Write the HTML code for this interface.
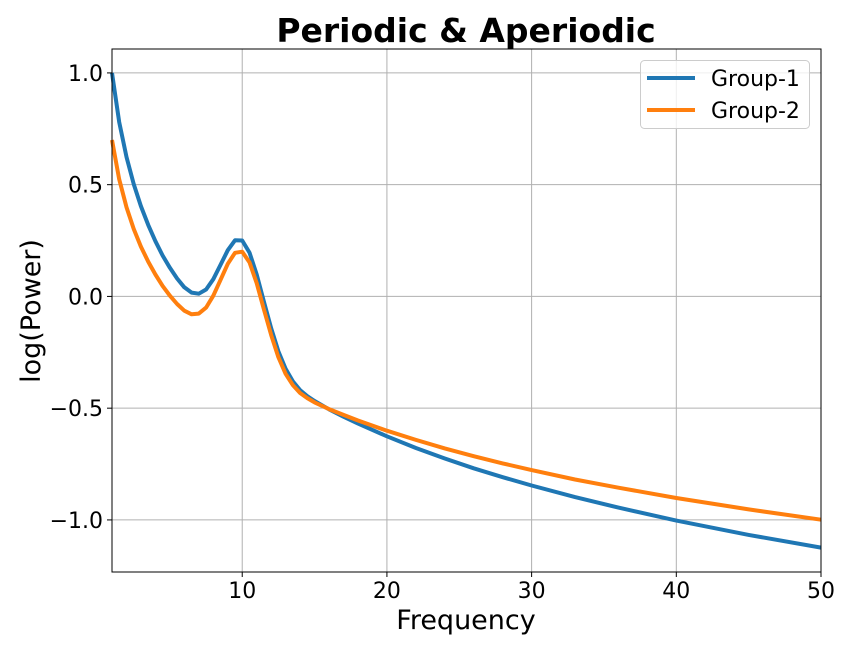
<!DOCTYPE html>
<html><head><meta charset="utf-8"><style>
body{margin:0;background:#fff;}
svg{display:block;font-family:"DejaVu Sans","Liberation Sans",sans-serif;}
</style></head><body>
<svg id="chart" width="850" height="650">
<text x="466" y="42" text-anchor="middle" font-size="33" font-weight="bold">Periodic &amp; Aperiodic</text>
<g id="grid"></g><g id="series"></g><g id="axes"></g>
<text x="466" y="629" text-anchor="middle" font-size="27">Frequency</text>
<text transform="translate(40,311) rotate(-90)" text-anchor="middle" font-size="27">log(Power)</text>
<g>
<rect x="640.5" y="60.5" width="169" height="68" rx="4" fill="#fff" fill-opacity="0.8" stroke="#ccc"/>
<line x1="647" y1="78" x2="695" y2="78" stroke="#1f77b4" stroke-width="4"/>
<text x="711" y="86" font-size="22">Group-1</text>
<line x1="647" y1="110" x2="695" y2="110" stroke="#ff7f0e" stroke-width="4"/>
<text x="711" y="118" font-size="22">Group-2</text>
</g>
</svg>
<script>
const freqs=[1,1.5,2,2.5,3,3.5,4,4.5,5,5.5,6,6.5,7,7.5,8,8.5,9,9.5,10,10.5,11,11.5,12,12.5,13,13.5,14,14.5,15,16,17,18,20,22,24,26,28,30,33,36,40,45,50];
const group1=[1.0,0.780,0.624,0.503,0.404,0.320,0.247,0.183,0.128,0.080,0.041,0.017,0.012,0.031,0.077,0.141,0.207,0.251,0.250,0.196,0.098,-0.023,-0.143,-0.246,-0.324,-0.380,-0.419,-0.446,-0.468,-0.505,-0.538,-0.569,-0.626,-0.678,-0.725,-0.769,-0.809,-0.846,-0.898,-0.945,-1.003,-1.067,-1.124];
const group2=[0.700,0.524,0.399,0.302,0.223,0.156,0.098,0.047,0.003,-0.034,-0.064,-0.080,-0.077,-0.050,0.003,0.074,0.146,0.195,0.200,0.152,0.059,-0.058,-0.173,-0.272,-0.346,-0.397,-0.432,-0.455,-0.474,-0.504,-0.530,-0.555,-0.601,-0.642,-0.680,-0.715,-0.747,-0.777,-0.819,-0.856,-0.902,-0.953,-0.999];
const xTicks=[10,20,30,40,50];
const xTickLabels=["10","20","30","40","50"];
const yTicks=[1.0,0.5,0.0,-0.5,-1.0];
const yTickLabels=["1.0","0.5","0.0","\u22120.5","\u22121.0"];
const L=112,R=821,T=49,B=572,xMin=1,xMax=50,yMin=-1.233,yMax=1.107;
const sx=v=>L+(v-xMin)/(xMax-xMin)*(R-L);
const sy=v=>B-(v-yMin)/(yMax-yMin)*(B-T);
const NS="http://www.w3.org/2000/svg";
function mk(t,a,p){const e=document.createElementNS(NS,t);for(const k in a)e.setAttribute(k,a[k]);p.appendChild(e);return e;}
const grid=document.getElementById('grid'),axes=document.getElementById('axes'),ser=document.getElementById('series');
xTicks.forEach((v,i)=>{const x=sx(v);
const g=mk('line',{x1:x,y1:T,x2:x,y2:B,stroke:'#b0b0b0','stroke-width':1},grid);


mk('line',{x1:x,y1:B,x2:x,y2:B+5,stroke:'#000'},axes);
const t=mk('text',{x:x,y:B+26,'text-anchor':'middle','font-size':22},axes);t.textContent=xTickLabels[i];

});
yTicks.forEach((v,i)=>{const y=sy(v);
const g=mk('line',{x1:L,y1:y,x2:R,y2:y,stroke:'#b0b0b0','stroke-width':1},grid);


mk('line',{x1:L-5,y1:y,x2:L,y2:y,stroke:'#000'},axes);
const t=mk('text',{x:L-9,y:y+8,'text-anchor':'end','font-size':22},axes);t.textContent=yTickLabels[i];

});
const fr=mk('rect',{x:L,y:T,width:R-L,height:B-T,fill:'none',stroke:'#000','stroke-width':1},axes);


function line(vals,color,name){const d=freqs.map((f,i)=>(i?'L':'M')+sx(f).toFixed(1)+','+sy(vals[i]).toFixed(1)).join('');
const p=mk('path',{d:d,fill:'none',stroke:color,'stroke-width':4,'stroke-linejoin':'round'},ser);

}
line(group1,'#1f77b4','group-1-line');
line(group2,'#ff7f0e','group-2-line');
</script>
</body></html>
